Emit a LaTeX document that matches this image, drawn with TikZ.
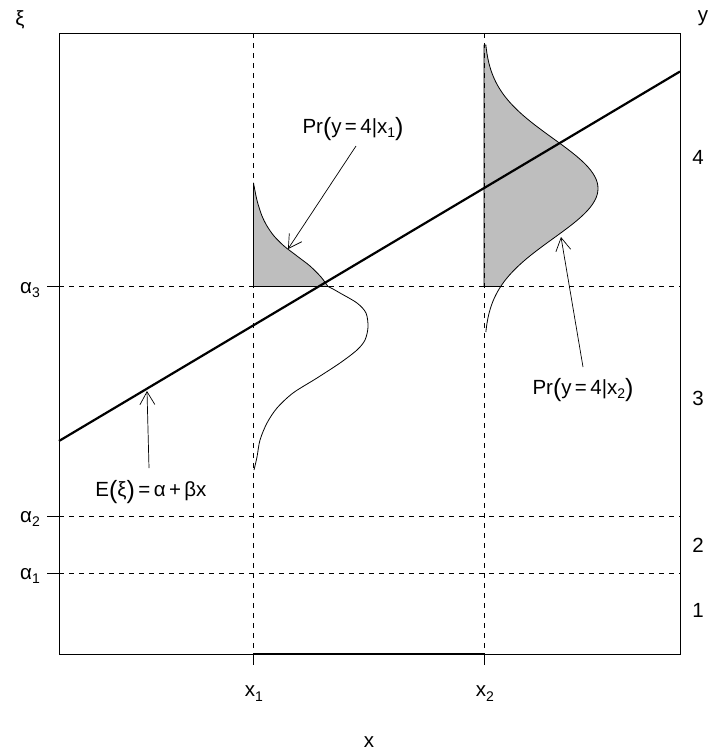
\documentclass[tikz,border=0pt]{standalone}
\usepackage{fontspec}
\setmainfont{Liberation Sans}
\usetikzlibrary{arrows.meta}
\newcommand\lowsub[1]{\raisebox{-0.45ex}{\fontsize{14}{14}\selectfont #1}}
\newcommand\lpar{\raisebox{-0.12em}{\fontsize{25}{25}\selectfont(}}
\newcommand\rpar{\raisebox{-0.12em}{\fontsize{25}{25}\selectfont)}}
\definecolor{rgray}{HTML}{BEBEBE}
\begin{document}
\begin{tikzpicture}[x=1pt,y=-1pt,
  font=\fontsize{20.5}{24}\selectfont,
  frame/.style={line width=0.9pt},
  axisseg/.style={line width=1.8pt},
  guide/.style={dash pattern=on 5pt off 5pt, line width=0.8pt},
  dens/.style={line width=0.8pt},
  shade/.style={fill=rgray, draw=black, line width=0.8pt, line join=round},
  ptr/.style={-{Straight Barb[length=13pt,width=15pt]}, line width=0.7pt},
  regline/.style={line width=2.2pt},
  lab/.style={inner sep=0pt}]
\useasboundingbox (0,0) rectangle (713,753);

% shaded upper tails
\filldraw[shade] (253.5,286.5) -- (253.5,183)
  -- plot[smooth] coordinates {(253.5,183) (256,196) (258,204) (262,216) (267,226) (274,236) (284,246) (297,256) (310,266) (321,277) (328,286.5)}
  -- cycle;
\filldraw[shade] (484,286.5) -- (484,45)
  -- plot[domain=45:286.5, samples=80, variable=\t] ({484+114*exp(-0.5*((\t-188.5)/50)^2)}, \t)
  -- cycle;

% guides
\draw[guide] (59,286.5) -- (680,286.5);
\draw[guide] (59,516.5) -- (680,516.5);
\draw[guide] (59,573) -- (680,573);
\draw[guide] (253.5,33) -- (253.5,654);
\draw[guide] (484,33) -- (484,654);

% lower parts of densities
\draw[dens] plot[smooth] coordinates {(328,286.5) (333,289) (340,293) (357,303) (366,313) (368,327) (365,340) (357,350) (340,363) (317,378) (293,393) (277,408) (267,423) (260,440) (257,457) (254,470)};
\draw[dens] plot[domain=286.5:332, samples=30, variable=\t] ({484+114*exp(-0.5*((\t-188.5)/50)^2)}, \t);

% frame and axes
\draw[frame] (59,33) rectangle (680,654);
\draw[axisseg] (253.5,654) -- (484,654);
\draw[frame] (253.5,654) -- (253.5,665) (484,654) -- (484,665);
\draw[frame] (47,286.5) -- (59,286.5) (47,516.5) -- (59,516.5) (47,573) -- (59,573);

% regression line
\coordinate (rl) at (59,441);
\coordinate (rr) at (680,71.5);
\draw[regline] (rl) -- (rr);

% labels
\node[lab] (xi) at (20,20) {ξ};
\node[lab] (ylab) at (703,18) {y};
\node[lab] (a3) at (30,290) {α\lowsub{3}};
\node[lab] (a2) at (30,519) {α\lowsub{2}};
\node[lab] (a1) at (30,576) {α\lowsub{1}};
\node[lab] (r4) at (698,157) {4};
\node[lab] (r3) at (698,398) {3};
\node[lab] (r2) at (698,545) {2};
\node[lab] (r1) at (698,610) {1};
\node[lab] (x1) at (254,694) {x\lowsub{1}};
\node[lab] (x2) at (485,694) {x\lowsub{2}};
\node[lab] (xlab) at (369,742) {x};
\node[lab] (pr1) at (353,129) {Pr\lpar y\,=\,4|x\lowsub{1}\rpar};
\node[lab] (pr2) at (583,390) {Pr\lpar y\,=\,4|x\lowsub{2}\rpar};
\node[lab] (ex) at (151,492) {E\lpar ξ\rpar\,=\,α\,+\,βx};

% pointers
\coordinate (p1t) at (356,146);
\coordinate (p1h) at (288,249);
\coordinate (p2t) at (583,367);
\coordinate (p2h) at (561,237);
\coordinate (ext) at (149,468);
\coordinate (exh) at (147,391);
\draw[ptr] (p1t) -- (p1h);
\draw[ptr] (p2t) -- (p2h);
\draw[ptr] (ext) -- (exh);
\end{tikzpicture}
\end{document}
